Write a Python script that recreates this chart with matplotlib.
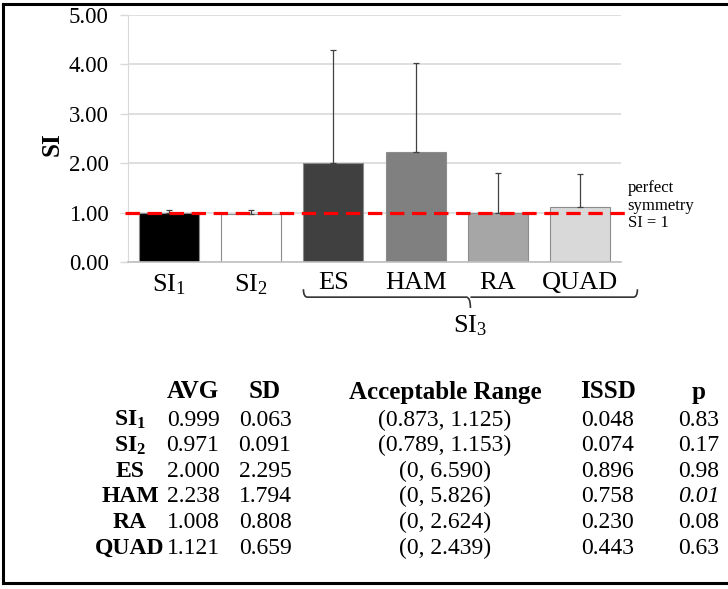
import numpy as np
import matplotlib
matplotlib.use("Agg")
import matplotlib.pyplot as plt
from matplotlib.path import Path
from matplotlib.patches import PathPatch
from matplotlib.lines import Line2D

plt.rcParams['font.family'] = ['Liberation Serif', 'DejaVu Serif']
plt.rcParams['mathtext.fontset'] = 'custom'
plt.rcParams['mathtext.rm'] = 'Liberation Serif'
plt.rcParams['mathtext.it'] = 'Liberation Serif:italic'
plt.rcParams['mathtext.bf'] = 'Liberation Serif:bold'

# data
labels = ['SI$_1$', 'SI$_2$', 'ES', 'HAM', 'RA', 'QUAD']
row_labels = [r'$\mathbf{SI_1}$', r'$\mathbf{SI_2}$', 'ES', 'HAM', 'RA', 'QUAD']
avg = [0.999, 0.971, 2.000, 2.238, 1.008, 1.121]
sd = [0.063, 0.091, 2.295, 1.794, 0.808, 0.659]
acc_range = ['(0.873, 1.125)', '(0.789, 1.153)', '(0, 6.590)',
             '(0, 5.826)', '(0, 2.624)', '(0, 2.439)']
issd = [0.048, 0.074, 0.896, 0.758, 0.230, 0.443]
p_vals = ['0.83', '0.17', '0.98', '0.01', '0.08', '0.63']
p_italic = [False, False, False, True, False, False]
headers = ['AVG', 'SD', 'Acceptable Range', 'ISSD', 'p']

bar_colors = ['#000000', '#ffffff', '#404040', '#808080', '#a6a6a6', '#d9d9d9']

W, H = 728, 589
fig = plt.figure(figsize=(W / 100, H / 100), dpi=100)
ax = fig.add_axes([128 / W, 1 - 262.5 / H, (621 - 128) / W, (262.5 - 15) / H])

x = np.arange(len(labels))
bw = 0.73
ax.bar(x, avg, width=bw, color=bar_colors, edgecolor='#8c8c8c', linewidth=0.8, zorder=2)
ax.errorbar(x, avg, yerr=[np.zeros(len(sd)), sd], fmt='none', ecolor='#404040',
            elinewidth=0.9, capsize=2, capthick=0.9, zorder=3)

ax.plot([-0.54, 5.55], [1, 1], color='#ff0000', lw=2.3, dashes=(4.5, 2.4),
        clip_on=False, zorder=4)

ax.set_xlim(-0.5, 5.5)
ax.set_ylim(0, 5)
ax.set_yticks(np.arange(0, 5.01, 1))
ax.set_yticklabels(['%.2f' % v for v in np.arange(0, 5.01, 1)], fontsize=16.5)
ax.set_xticks(x)
ax.set_xticklabels(labels, fontsize=19)
ax.tick_params(axis='x', length=0, pad=7)
ax.tick_params(axis='y', length=5.8, color='#d9d9d9', width=1, pad=8)
ax.grid(axis='y', color='#d9d9d9', lw=1.2, zorder=0)
ax.set_axisbelow(True)
for s in ['top', 'right']:
    ax.spines[s].set_visible(False)
ax.spines['left'].set_color('#d9d9d9')
ax.spines['bottom'].set_color('#bfbfbf')
ax.spines['bottom'].set_linewidth(1.2)

ax.set_ylabel('SI', fontsize=18, fontweight='bold')
ax.yaxis.set_label_coords(-0.130, 0.479)

ax.text(5.58, 1.67, 'perfect\nsymmetry\nSI = 1', fontsize=12, va='top', ha='left',
        linespacing=1.15)

# brace under SI3 group
x0 = x[2] - bw / 2
x1 = 5.7
xc = (x0 + x1) / 2
yt, yh, yb = -0.54, -0.70, -0.92
r = 0.05
verts = [(x0, yt), (x0, yh), (x0 + r, yh),
         (xc - r, yh), (xc, yh), (xc, yb),
         (xc, yh), (xc + r, yh),
         (x1 - r, yh), (x1, yh), (x1, yt)]
codes = [Path.MOVETO, Path.CURVE3, Path.CURVE3,
         Path.LINETO, Path.CURVE3, Path.CURVE3,
         Path.MOVETO, Path.LINETO,
         Path.LINETO, Path.CURVE3, Path.CURVE3]
ax.add_patch(PathPatch(Path(verts, codes), fill=False, lw=1.2, color='#333333',
                       clip_on=False))
ax.text(xc, -1.27, 'SI$_3$', fontsize=19, ha='center', va='center')

# table below
col_x = [193, 265, 445, 608, 699]
label_x = 130
header_y = 392
row_y0, row_dy = 420, 25.6
for cx, h in zip(col_x, headers):
    fig.text(cx / W, 1 - header_y / H, h, fontsize=18, fontweight='bold',
             ha='center', va='center')
for i in range(len(avg)):
    yy = 1 - (row_y0 + i * row_dy) / H
    fig.text(label_x / W, yy, row_labels[i], fontsize=17, fontweight='bold',
             ha='center', va='center')
    cells = ['%.3f' % avg[i], '%.3f' % sd[i], acc_range[i], '%.3f' % issd[i], p_vals[i]]
    for j, (cx, c) in enumerate(zip(col_x, cells)):
        style = 'italic' if (j == 4 and p_italic[i]) else 'normal'
        fig.text(cx / W, yy, c, fontsize=17, style=style, ha='center', va='center')

# outer frame (left, top, bottom)
fy_top = 1 - 4 / H
fy_bot = 1 - 583 / H
fx_l = 2.5 / W
fig.add_artist(Line2D([fx_l, fx_l], [fy_bot, fy_top], color='black', lw=2.2))
fig.add_artist(Line2D([fx_l, 1], [fy_top, fy_top], color='black', lw=2.2))
fig.add_artist(Line2D([fx_l, 1], [fy_bot, fy_bot], color='black', lw=2.2))

fig.savefig('out.png', dpi=100)
